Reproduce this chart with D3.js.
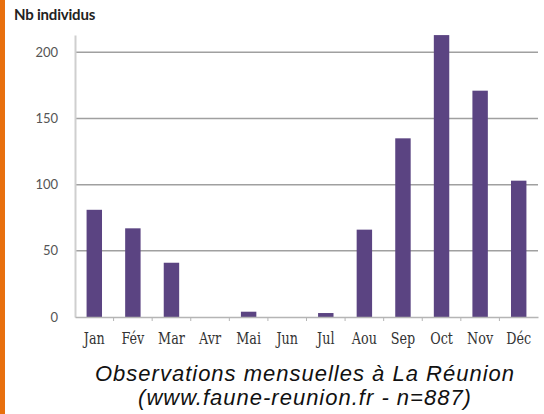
<!DOCTYPE html>
<html>
<head>
<meta charset="utf-8">
<script src="https://cdn.jsdelivr.net/npm/d3@7"></script>
<style>
  body { margin: 0; background: #fff; }
  svg { display: block; }
</style>
</head>
<body>
<div id="chart"></div>
<script>
const months = ['Jan', 'Fév', 'Mar', 'Avr', 'Mai', 'Jun', 'Jul', 'Aou', 'Sep', 'Oct', 'Nov', 'Déc']
const counts = [81, 67, 41, 0, 4, 0, 3, 66, 135, 213, 171, 103]
const yTicks = [0, 50, 100, 150, 200]
const yLabel = 'Nb individus'
const captionLines = ['Observations mensuelles à La Réunion', '(www.faune-reunion.fr - n=887)']

const W = 544, H = 414
const margin = {top: 36, right: 6, bottom: 97, left: 75}
const width = W - margin.left - margin.right,
  height = H - margin.top - margin.bottom

var svg = d3.select('#chart').append('svg')
  .attr('width', W)
  .attr('height', H)

// orange strip on the left edge
svg.append('rect')
  .attr('x', 0).attr('y', 0)
  .attr('width', 5).attr('height', H)
  .attr('fill', '#e8700e')

var g = svg.append('g')
  .attr('transform', 'translate(' + margin.left + ',' + margin.top + ')')

var x = d3.scaleBand()
  .domain(months)
  .range([0, width])
  .paddingInner(0.6)
  .paddingOuter(0.3)

var y = d3.scaleLinear()
  .domain([0, 213])
  .range([height, height - 213 * 1.3235])

// gridlines
g.selectAll('.grid')
  .data(yTicks.filter(d => d > 0))
  .enter().append('line')
  .attr('x1', 0).attr('x2', width)
  .attr('y1', d => y(d)).attr('y2', d => y(d))
  .attr('stroke', '#a0a0a0')
  .attr('stroke-width', 1.5)

// bars
g.selectAll('.bar')
  .data(counts)
  .enter().append('rect')
  .attr('x', (d, i) => x(months[i]))
  .attr('y', d => y(d))
  .attr('width', x.bandwidth())
  .attr('height', d => y(0) - y(d))
  .attr('fill', '#5b4482')

// y axis
var yAxis = g.append('g')
  .call(d3.axisLeft(y).tickValues(yTicks).tickSize(0).tickPadding(17))
yAxis.select('.domain').attr('stroke', '#cfcfcf').attr('stroke-width', 2)
yAxis.selectAll('text')
  .attr('fill', '#555')
  .style('font-family', 'Lato, sans-serif')
  .style('font-size', '13px')

// x axis, labels stretched like the old condensed serif
var sy = 1.3
var xAxis = g.append('g')
  .attr('transform', 'translate(0,' + height + ')')
  .call(d3.axisBottom(x).tickSize(0))
xAxis.select('.domain').attr('stroke', '#b5b5b5').attr('stroke-width', 1.5)
xAxis.selectAll('text')
  .attr('fill', '#333')
  .attr('y', 27 / sy)
  .attr('dy', 0)
  .style('font-family', '"DejaVu Serif Condensed", "Liberation Serif", serif')
  .style('font-size', '13.5px')
  .attr('transform', 'scale(1.05,' + sy + ')')

// small ticks between categories
var gap = (x.step() - x.bandwidth()) / 2
xAxis.selectAll('.sep')
  .data(months.slice(1))
  .enter().append('line')
  .attr('x1', d => x(d) - gap)
  .attr('x2', d => x(d) - gap)
  .attr('y1', 0).attr('y2', 4)
  .attr('stroke', '#b5b5b5')

// y label
svg.append('text')
  .attr('x', 14)
  .attr('y', 20)
  .style('font-family', 'Lato, sans-serif')
  .style('font-weight', 'bold')
  .style('font-size', '15px')
  .style('letter-spacing', '-0.2px')
  .attr('fill', '#222')
  .text(yLabel)

// caption
svg.selectAll('.caption')
  .data(captionLines)
  .enter().append('text')
  .attr('x', 305)
  .attr('y', (d, i) => 381 + i * 24)
  .attr('text-anchor', 'middle')
  .style('font-family', '"Liberation Sans", Arial, sans-serif')
  .style('font-style', 'italic')
  .style('font-size', '22px')
  .style('letter-spacing', '1px')
  .attr('fill', '#111')
  .text(d => d)
</script>
</body>
</html>
